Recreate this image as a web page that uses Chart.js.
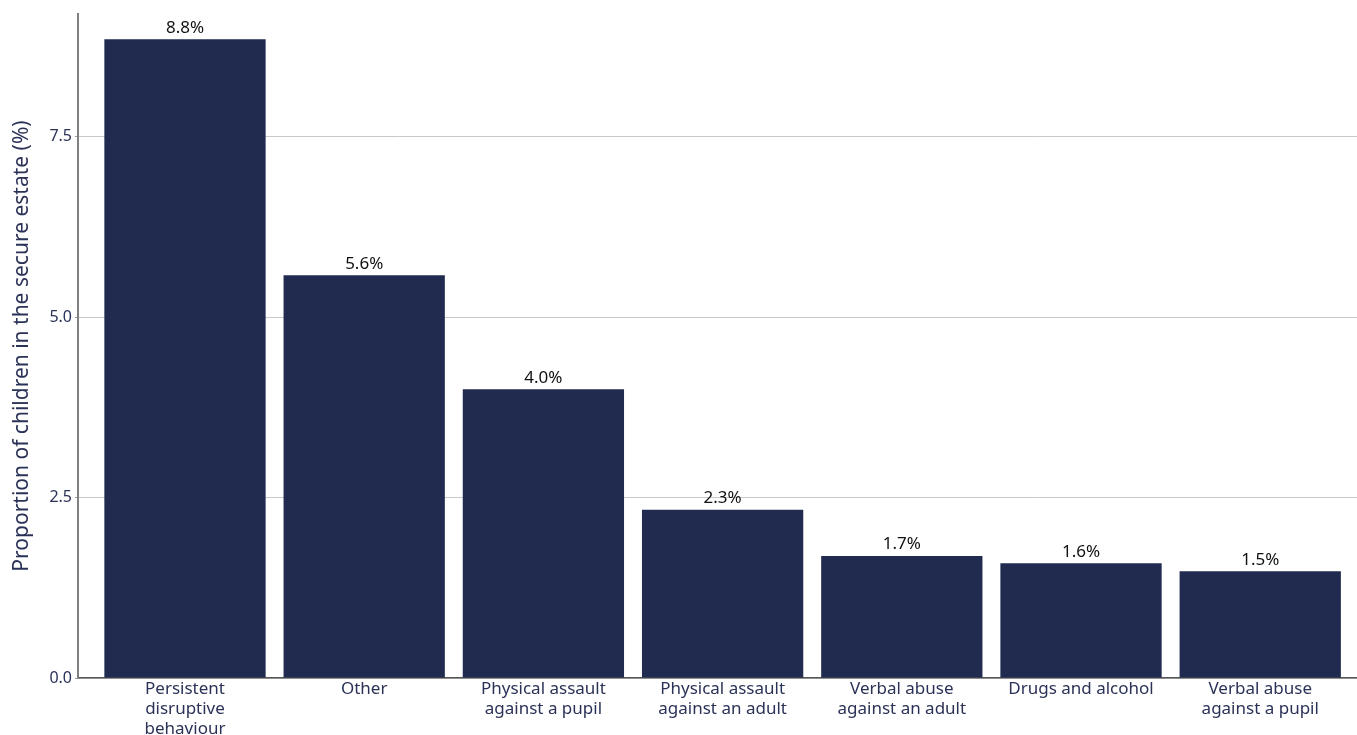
<!DOCTYPE html>
<html>
<head>
<meta charset="utf-8">
<script src="https://cdn.jsdelivr.net/npm/chart.js@4"></script>
<style>
  html, body { margin: 0; padding: 0; background: #fff; }
  #wrap { width: 1357px; height: 735px; }
</style>
</head>
<body>
<div id="wrap"><canvas id="chart"></canvas></div>
<script>
// categorias y valores
const categories = [
  ["Persistent", "disruptive", "behaviour"],
  "Other",
  ["Physical assault", "against a pupil"],
  ["Physical assault", "against an adult"],
  ["Verbal abuse", "against an adult"],
  "Drugs and alcohol",
  ["Verbal abuse", "against a pupil"]
];
const values = [8.85, 5.58, 4.0, 2.33, 1.69, 1.59, 1.48];
const yTicks = [0, 2.5, 5, 7.5];

const navy = '#212b4f';
const textNavy = '#2b3257';
const font = "'Noto Sans', 'Open Sans', sans-serif";

// etiquetas encima de cada barra
const barLabels = {
  id: 'barLabels',
  afterDatasetsDraw(chart) {
    const ctx = chart.ctx;
    const meta = chart.getDatasetMeta(0);
    ctx.save();
    ctx.font = '17px ' + font;
    ctx.fillStyle = '#111';
    ctx.textAlign = 'center';
    ctx.textBaseline = 'bottom';
    meta.data.forEach((bar, i) => {
      ctx.fillText(values[i].toFixed(1) + '%', bar.x, bar.y - 3);
    });
    ctx.restore();
  }
};

new Chart(document.getElementById('chart'), {
  type: 'bar',
  data: {
    datasets: [{
      data: values.map((v, i) => ({ x: i, y: v })),
      backgroundColor: navy,
      borderWidth: 0,
      categoryPercentage: 1,
      barPercentage: 0.9
    }]
  },
  options: {
    responsive: true,
    maintainAspectRatio: false,
    animation: false,
    layout: { padding: { top: 14, right: 0, left: 0, bottom: 0 } },
    plugins: {
      legend: { display: false },
      tooltip: { enabled: false }
    },
    scales: {
      x: {
        type: 'linear',
        offset: false,
        min: -0.597,
        max: 6.54,
        grid: { display: false, drawTicks: false, offset: false },
        border: { display: true, color: '#555', width: 1.5 },
        afterBuildTicks: s => {
          s.ticks = categories.map((c, i) => ({ value: i }));
        },
        afterFit: s => { s.height = 57; },
        ticks: {
          autoSkip: false,
          maxRotation: 0,
          padding: 1,
          color: textNavy,
          font: { family: font, size: 17, lineHeight: 1.18 },
          callback: v => categories[v]
        }
      },
      y: {
        min: 0,
        max: 9.2,
        afterBuildTicks: s => {
          s.ticks = yTicks.map(v => ({ value: v }));
        },
        afterFit: s => { s.width = 78; },
        grid: { color: '#c8c8c8', lineWidth: 1, tickLength: 3, tickColor: '#999' },
        border: { display: true, color: '#808080', width: 2 },
        ticks: {
          color: textNavy,
          padding: 3,
          font: { family: font, size: 16 },
          callback: v => v.toFixed(1)
        },
        title: {
          display: true,
          text: 'Proportion of children in the secure estate (%)',
          color: textNavy,
          padding: { top: 9, bottom: 4 },
          font: { family: font, size: 21 }
        }
      }
    }
  },
  plugins: [barLabels]
});
</script>
</body>
</html>
